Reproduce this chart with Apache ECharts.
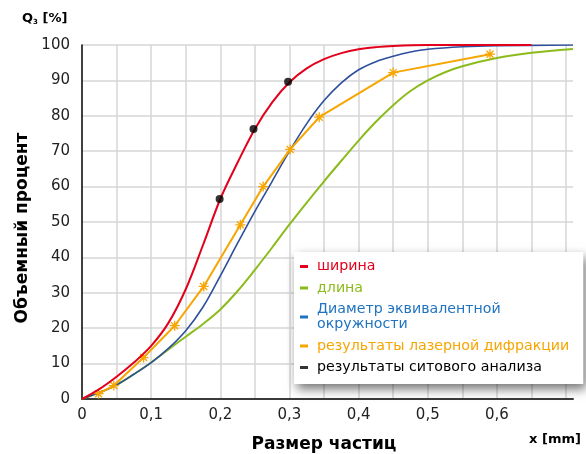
<!DOCTYPE html>
<html><head><meta charset="utf-8">
<script src="https://cdn.jsdelivr.net/npm/echarts@6/dist/echarts.min.js"></script>
<style>html,body{margin:0;padding:0;background:#fff}#c{width:586px;height:454px}</style>
</head><body><div id="c"></div>
<script>
const seriesNames = ['ширина', 'длина', 'Диаметр эквивалентной окружности', 'результаты лазерной дифракции', 'результаты ситового анализа'];
const widthData = [[0,0],[0.025,2.8],[0.05,6.3],[0.075,10.3],[0.1,15],[0.125,21.5],[0.15,31],[0.175,43.5],[0.2,56.5],[0.225,66.8],[0.25,76.3],[0.275,83.8],[0.3,89.5],[0.325,93.4],[0.35,96],[0.375,97.7],[0.4,98.8],[0.425,99.4],[0.45,99.75],[0.5,100],[0.65,100]];
const lengthData = [[0,0],[0.025,1.8],[0.05,4],[0.075,7],[0.1,10.3],[0.125,14],[0.15,17.6],[0.175,21.2],[0.2,25.3],[0.225,30.5],[0.25,36.5],[0.275,42.8],[0.3,49.3],[0.325,55.5],[0.35,61.5],[0.375,67.3],[0.4,73],[0.425,78.3],[0.45,83],[0.475,87],[0.5,90],[0.525,92.3],[0.55,94],[0.6,96.3],[0.65,97.8],[0.71,98.9]];
const diameterData = [[0,0],[0.025,1.8],[0.05,4],[0.075,7],[0.1,10.3],[0.125,14.3],[0.15,19.3],[0.175,26],[0.2,34.8],[0.225,44],[0.25,53],[0.275,61.5],[0.3,70],[0.325,77.8],[0.35,84.3],[0.375,89.3],[0.4,93],[0.425,95.3],[0.45,96.8],[0.475,98],[0.5,98.8],[0.55,99.5],[0.6,99.8],[0.71,100]];
const laserData = [[0.024,1.5],[0.046,3.8],[0.089,11.7],[0.134,20.7],[0.176,31.8],[0.229,49.2],[0.262,60],[0.301,70.5],[0.343,79.6],[0.45,92.2],[0.59,97.4]];
const sieveData = [[0.199,56.5],[0.248,76.3],[0.298,89.6]];
const xTickValues = [0, 0.1, 0.2, 0.3, 0.4, 0.5, 0.6];

const RED = '#e2001a', GREEN = '#8cbb1c', BLUE = '#2d4f9c', BLUE_L = '#1f73c0', ORANGE = '#f7a500', BLACK = '#000';
const FONT = 'DejaVu Sans';
const starPath = 'path://M5,0L5,10M0,5L10,5M1.5,1.5L8.5,8.5M1.5,8.5L8.5,1.5';

function legendItem(name, color) {
  return {name: name, icon: 'rect', itemStyle: {color: color, borderWidth: 0}, lineStyle: {width: 0, opacity: 0}, textStyle: {color: color}};
}

const chart = echarts.init(document.getElementById('c'), null, {renderer: 'canvas'});
chart.setOption({
  animation: false,
  grid: {left: 82, right: 13, top: 45, bottom: 55, containLabel: false},
  xAxis: {
    type: 'value', min: 0, max: 0.71, interval: 0.05,
    axisLine: {lineStyle: {color: '#3a3a3a', width: 2}},
    axisTick: {show: false},
    axisLabel: {
      fontFamily: FONT, fontSize: 15, color: '#222', margin: 9,
      formatter: v => {
        const hit = xTickValues.find(t => Math.abs(t - v) < 1e-6);
        if (hit === undefined) return '';
        return hit === 0 ? '0' : hit.toFixed(1).replace('.', ',');
      }
    },
    splitLine: {show: true, showMinLine: false, showMaxLine: false, lineStyle: {color: '#d6d6d6', width: 1.5}}
  },
  yAxis: {
    type: 'value', min: 0, max: 100, interval: 10,
    axisLine: {show: true, lineStyle: {color: '#000', width: 1.5}},
    axisTick: {show: false},
    axisLabel: {fontFamily: FONT, fontSize: 15, color: '#222', margin: 12},
    splitLine: {show: true, lineStyle: {color: '#d6d6d6', width: 1.5}}
  },
  legend: {
    orient: 'vertical', left: 294, top: 252,
    padding: [7, 14, 9, 6], itemGap: 6.5,
    backgroundColor: '#fff',
    shadowBlur: 10, shadowColor: 'rgba(0,0,0,0.55)', shadowOffsetX: 3, shadowOffsetY: 5,
    itemWidth: 8, itemHeight: 3, icon: 'rect',
    textStyle: {fontFamily: FONT, fontSize: 14.2, lineHeight: 15, padding: [0, 0, 0, 4]},
    formatter: n => n === seriesNames[2] ? 'Диаметр эквивалентной\nокружности' : n,
    data: [
      legendItem(seriesNames[0], RED),
      legendItem(seriesNames[1], GREEN),
      legendItem(seriesNames[2], BLUE_L),
      legendItem(seriesNames[3], ORANGE),
      legendItem(seriesNames[4], BLACK)
    ]
  },
  series: [
    {name: seriesNames[1], type: 'line', data: lengthData, smooth: 0.35, showSymbol: false,
     lineStyle: {color: GREEN, width: 2}, itemStyle: {color: GREEN}, z: 2},
    {name: seriesNames[2], type: 'line', data: diameterData, smooth: 0.35, showSymbol: false,
     lineStyle: {color: BLUE, width: 1.6}, itemStyle: {color: BLUE}, z: 3},
    {name: seriesNames[3], type: 'line', data: laserData, smooth: false,
     symbol: starPath, symbolSize: 10, showSymbol: true,
     lineStyle: {color: ORANGE, width: 2}, itemStyle: {color: ORANGE, borderColor: ORANGE, borderWidth: 1.3}, z: 4},
    {name: seriesNames[0], type: 'line', data: widthData, smooth: 0.35, showSymbol: false,
     lineStyle: {color: RED, width: 2}, itemStyle: {color: RED}, z: 5},
    {name: seriesNames[4], type: 'scatter', data: sieveData, symbol: 'circle', symbolSize: 8,
     itemStyle: {color: BLACK}, z: 6}
  ],
  graphic: [
    {type: 'text', left: 22, top: 12, style: {
      text: '{a|Q}{s|3}{a| [%]}', fill: '#000',
      rich: {a: {fontFamily: FONT, fontWeight: 'bold', fontSize: 13}, s: {fontFamily: FONT, fontWeight: 'bold', fontSize: 7, padding: [8, 0, 0, 0]}}
    }},
    {type: 'text', x: 23, y: 228, rotation: Math.PI / 2, style: {
      text: 'Объемный процент', fill: '#000', font: 'bold 17px "DejaVu Sans"', align: 'center', verticalAlign: 'middle'
    }},
    {type: 'text', x: 324, y: 445, style: {
      text: 'Размер частиц', fill: '#000', font: 'bold 17px "DejaVu Sans"', align: 'center', verticalAlign: 'middle'
    }},
    {type: 'text', x: 555, y: 440, style: {
      text: 'x [mm]', fill: '#000', font: 'bold 13px "DejaVu Sans"', align: 'center', verticalAlign: 'middle'
    }}
  ]
});
</script></body></html>
